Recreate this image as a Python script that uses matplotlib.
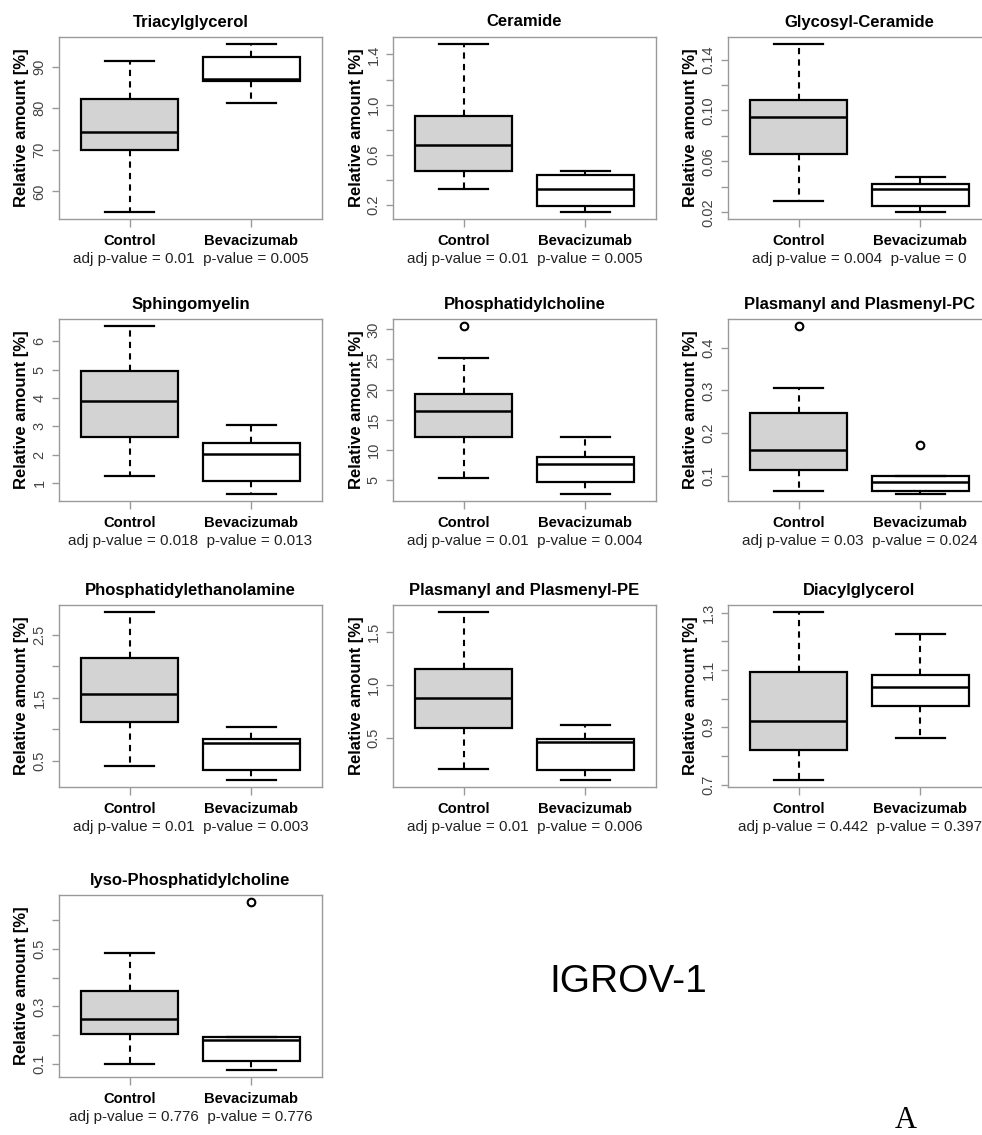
import numpy as np
import matplotlib
matplotlib.use("Agg")
import matplotlib.pyplot as plt

plt.rcParams['font.family'] = ['Liberation Sans', 'DejaVu Sans']

# panel titles (row by row)
titles = ["Triacylglycerol", "Ceramide", "Glycosyl-Ceramide",
          "Sphingomyelin", "Phosphatidylcholine", "Plasmanyl and Plasmenyl-PC",
          "Phosphatidylethanolamine", "Plasmanyl and Plasmenyl-PE", "Diacylglycerol",
          "lyso-Phosphatidylcholine"]
groups = ["Control", "Bevacizumab"]

# box stats: low whisker, q1, median, q3, high whisker
ctrl_low = [55.0, 0.333, 0.0285, 1.27, 5.28, 0.065, 0.42, 0.204, 0.715, 0.100]
ctrl_q1 = [70.0, 0.472, 0.0659, 2.64, 12.17, 0.115, 1.12, 0.588, 0.820, 0.2035]
ctrl_med = [74.2, 0.677, 0.0951, 3.90, 16.5, 0.1615, 1.56, 0.877, 0.923, 0.2576]
ctrl_q3 = [82.1, 0.912, 0.1085, 4.96, 19.28, 0.248, 2.14, 1.148, 1.091, 0.354]
ctrl_high = [91.4, 1.485, 0.1524, 6.54, 25.28, 0.305, 2.87, 1.689, 1.303, 0.487]
ctrl_out = [[], [], [], [], [30.6], [0.451], [], [], [], []]

bev_low = [81.2, 0.144, 0.0200, 0.61, 2.6, 0.0572, 0.19, 0.097, 0.861, 0.0776]
bev_q1 = [86.6, 0.197, 0.0249, 1.06, 4.56, 0.065, 0.357, 0.195, 0.974, 0.109]
bev_med = [87.0, 0.331, 0.0381, 2.03, 7.67, 0.086, 0.786, 0.456, 1.040, 0.182]
bev_q3 = [92.2, 0.437, 0.0422, 2.41, 8.78, 0.100, 0.844, 0.484, 1.082, 0.194]
bev_high = [95.5, 0.475, 0.0474, 3.03, 12.1, 0.100, 1.04, 0.620, 1.224, 0.194]
bev_out = [[], [], [], [], [], [0.172], [], [], [], [0.665]]

# y ticks and their labels ('' = tick without label)
yticks = [[60, 70, 80, 90],
          [0.2, 0.4, 0.6, 0.8, 1.0, 1.2, 1.4],
          [0.02, 0.04, 0.06, 0.08, 0.10, 0.12, 0.14],
          [1, 2, 3, 4, 5, 6],
          [5, 10, 15, 20, 25, 30],
          [0.1, 0.2, 0.3, 0.4],
          [0.5, 1.0, 1.5, 2.0, 2.5],
          [0.5, 1.0, 1.5],
          [0.7, 0.8, 0.9, 1.0, 1.1, 1.2, 1.3],
          [0.1, 0.2, 0.3, 0.4, 0.5, 0.6]]
ylabels = [["60", "70", "80", "90"],
           ["0.2", "", "0.6", "", "1.0", "", "1.4"],
           ["0.02", "", "0.06", "", "0.10", "", "0.14"],
           ["1", "2", "3", "4", "5", "6"],
           ["5", "10", "15", "20", "25", "30"],
           ["0.1", "0.2", "0.3", "0.4"],
           ["0.5", "", "1.5", "", "2.5"],
           ["0.5", "1.0", "1.5"],
           ["0.7", "", "0.9", "", "1.1", "", "1.3"],
           ["0.1", "", "0.3", "", "0.5", ""]]

adj_p = ["0.01", "0.01", "0.004", "0.018", "0.01", "0.03", "0.01", "0.01", "0.442", "0.776"]
p_val = ["0.005", "0.005", "0", "0.013", "0.004", "0.024", "0.003", "0.006", "0.397", "0.776"]

W, H = 982, 1135
fig = plt.figure(figsize=(W / 100, H / 100), dpi=100)

col_left = [59, 393, 728]
row_top = [37, 319, 605, 895]
aw, ah = 263, 182
frame_col = "#9a9a9a"

for i, name in enumerate(titles):
    r, c = divmod(i, 3)
    x0, y0 = col_left[c], row_top[r]
    ax = fig.add_axes([x0 / W, 1 - (y0 + ah) / H, aw / W, ah / H])

    stats = [
        dict(whislo=ctrl_low[i], q1=ctrl_q1[i], med=ctrl_med[i], q3=ctrl_q3[i],
             whishi=ctrl_high[i], fliers=ctrl_out[i]),
        dict(whislo=bev_low[i], q1=bev_q1[i], med=bev_med[i], q3=bev_q3[i],
             whishi=bev_high[i], fliers=bev_out[i]),
    ]
    bp = ax.bxp(stats, positions=[1, 2], widths=0.8, patch_artist=True,
                boxprops=dict(edgecolor="black", linewidth=1.6),
                medianprops=dict(color="black", linewidth=1.8),
                whiskerprops=dict(color="black", linewidth=1.5, linestyle=(0, (3, 2.5))),
                capprops=dict(color="black", linewidth=1.6),
                capwidths=0.4,
                flierprops=dict(marker="o", markerfacecolor="none", markeredgecolor="black",
                                markersize=5.5, markeredgewidth=1.5))
    bp["boxes"][0].set_facecolor("#d3d3d3")
    bp["boxes"][1].set_facecolor("white")

    # R style axis padding of 4 %
    vals = [ctrl_low[i], ctrl_high[i], bev_low[i], bev_high[i]] + ctrl_out[i] + bev_out[i]
    lo, hi = min(vals), max(vals)
    pad = 0.04 * (hi - lo)
    ax.set_ylim(lo - pad, hi + pad)
    ax.set_xlim(0.42, 2.58)

    ax.set_yticks(yticks[i])
    ax.set_yticklabels(ylabels[i], rotation=90, va="center", color="#444444", fontsize=10.5)
    ax.set_xticks([1, 2])
    ax.set_xticklabels(groups, fontweight="bold", fontsize=10.6, color="black")
    ax.tick_params(axis="y", length=5, width=1, color=frame_col, pad=4)
    ax.tick_params(axis="x", length=6, width=1, color=frame_col, pad=5)
    for sp in ax.spines.values():
        sp.set_color(frame_col)
        sp.set_linewidth(1.0)

    cx = x0 + aw / 2
    fig.text(cx / W, 1 - (y0 - 15) / H, name, ha="center", va="center",
             fontweight="bold", fontsize=12)
    fig.text((x0 - 37) / W, 1 - (y0 + ah / 2) / H, "Relative amount [%]",
             rotation=90, ha="center", va="center", fontweight="bold", fontsize=12)
    fig.text(cx / W, 1 - (y0 + ah + 40) / H,
             "adj p-value = " + adj_p[i] + "  p-value = " + p_val[i],
             ha="center", va="center", fontsize=11, color="#222222")

fig.text(628 / W, 1 - 982 / H, "IGROV-1", ha="center", va="center", fontsize=28)
fig.text(906 / W, 1 - 1121 / H, "A", ha="center", va="center", fontsize=22,
         family="Liberation Serif")

fig.savefig("out.png", dpi=100, facecolor="white")
